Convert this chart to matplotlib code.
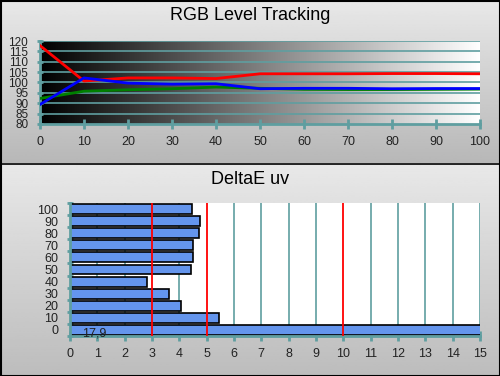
import numpy as np
import matplotlib
matplotlib.use("Agg")
import matplotlib.pyplot as plt
from matplotlib.patches import Rectangle

plt.rcParams['font.family'] = ['Liberation Sans', 'DejaVu Sans']

# RGB level tracking data
levels = [0, 10, 20, 30, 40, 50, 60, 70, 80, 90, 100]
red = [117.8, 100.7, 102.2, 102.2, 101.9, 104.2, 104.2, 104.2, 104.3, 104.3, 104.2]
green = [92.3, 95.8, 96.5, 97.0, 97.8, 97.2, 96.7, 96.6, 96.6, 96.7, 96.8]
blue = [89.4, 102.2, 99.7, 99.2, 99.4, 97.0, 97.2, 97.2, 97.0, 97.1, 97.1]

# DeltaE uv data
de_labels = ['0', '10', '20', '30', '40', '50', '60', '70', '80', '90', '100']
de_values = [17.9, 5.46, 4.05, 3.61, 2.80, 4.41, 4.49, 4.49, 4.71, 4.77, 4.45]
de_limits = [3, 5, 10]

teal = '#5f9ea0'

fig = plt.figure(figsize=(5, 3.76), dpi=100)

# background of both panels
bg = fig.add_axes([0, 0, 1, 1])
bg.axis('off')
top_grad = np.linspace(0.91, 0.72, 100).reshape(-1, 1)
bot_grad = np.linspace(0.91, 0.74, 100).reshape(-1, 1)
bg.imshow(top_grad, cmap='gray', vmin=0, vmax=1, extent=[0, 500, 163, 0], aspect='auto')
bg.imshow(bot_grad, cmap='gray', vmin=0, vmax=1, extent=[0, 500, 376, 164], aspect='auto')
bg.set_xlim(0, 500)
bg.set_ylim(376, 0)
bg.plot([0, 500], [163.5, 163.5], color='black', lw=1.2)
bg.add_patch(Rectangle((0.5, 0.5), 499, 375, fill=False, edgecolor='black', lw=1.5))

fig.text(0.5, 1 - 16 / 376, 'RGB Level Tracking', ha='center', va='center', fontsize=13)
fig.text(0.5, 1 - 179 / 376, 'DeltaE uv', ha='center', va='center', fontsize=13)

# top chart
ax1 = fig.add_axes([40 / 500, 1 - 124 / 376, 440 / 500, 83 / 376])
grad = np.linspace(0, 1, 256).reshape(1, -1)
ax1.imshow(grad, cmap='gray', extent=[0, 100, 80, 120], aspect='auto', zorder=0)
for v in range(85, 125, 5):
    ax1.axhline(v, color=teal, lw=1.2, zorder=1)
ax1.plot(levels, red, color='red', lw=2, zorder=3)
ax1.plot(levels, green, color='green', lw=2, zorder=3)
ax1.plot(levels, blue, color='blue', lw=2, zorder=4)
ax1.set_xlim(0, 100)
ax1.set_ylim(80, 120)
ax1.set_xticks(range(0, 101, 10))
ax1.set_yticks(range(80, 121, 5))
for s in ['top', 'right']:
    ax1.spines[s].set_visible(False)
for s in ['left', 'bottom']:
    ax1.spines[s].set_color(teal)
    ax1.spines[s].set_linewidth(2)
ax1.tick_params(axis='x', direction='inout', length=7, width=2, color=teal,
                labelsize=9, pad=5, labelcolor='#222222')
ax1.tick_params(axis='y', direction='inout', length=5, width=2, color=teal,
                labelsize=8.5, pad=6, labelcolor='#222222')

# bottom chart
ax2 = fig.add_axes([70 / 500, 1 - 336 / 376, 410 / 500, 133 / 376])
ax2.set_facecolor('white')
pos = np.arange(len(de_labels))
for v in range(1, 16):
    if v not in de_limits:
        ax2.axvline(v, color=teal, lw=1.2, zorder=1)
ax2.barh(pos, de_values, height=0.82, color='#6495ED', edgecolor='black', lw=1.2, zorder=2)
for v in de_limits:
    ax2.axvline(v, color='red', lw=1.3, zorder=3)
ax2.text(0.45, -0.3, '17,9', fontsize=9, va='center', ha='left', color='#222222', zorder=4)
ax2.set_xlim(0, 15)
ax2.set_ylim(-0.5, 10.5)
ax2.set_xticks(range(0, 16))
ax2.set_yticks(pos)
ax2.set_yticklabels(de_labels)
ax2.set_yticks(np.arange(-0.5, 10.6, 1), minor=True)
for s in ['top', 'right']:
    ax2.spines[s].set_visible(False)
for s in ['left', 'bottom']:
    ax2.spines[s].set_color(teal)
    ax2.spines[s].set_linewidth(2)
ax2.tick_params(axis='x', direction='inout', length=7, width=2, color=teal,
                labelsize=9, pad=5, labelcolor='#222222')
ax2.tick_params(axis='y', which='major', length=0, labelsize=9, pad=8.5, labelcolor='#222222')
ax2.tick_params(axis='y', which='minor', direction='inout', length=5, width=2, color=teal)

fig.savefig('out.png', dpi=100)
